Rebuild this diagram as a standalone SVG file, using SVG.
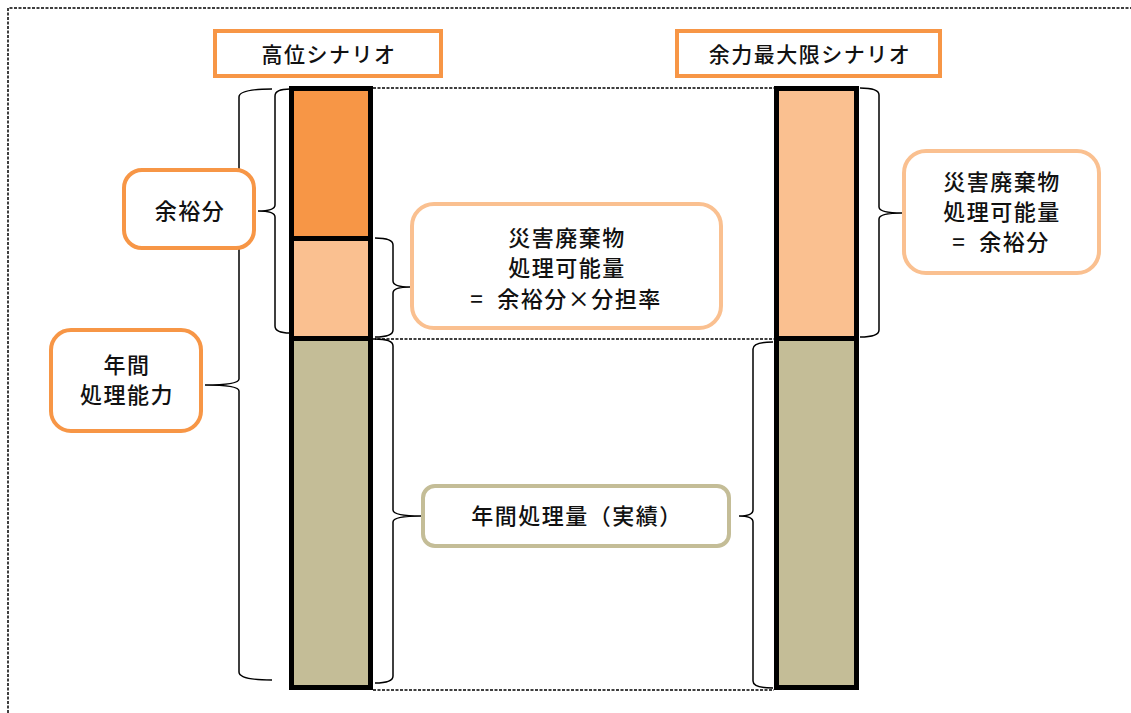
<svg xmlns="http://www.w3.org/2000/svg" width="1131" height="713" viewBox="0 0 1131 713">
<style>
.t{font-family:"Noto Sans CJK JP","Noto Sans",sans-serif;font-size:21px;font-weight:500;fill:#111;text-anchor:middle;letter-spacing:1.5px}
.b{font-family:"Noto Sans CJK JP","Noto Sans",sans-serif;font-size:22px;font-weight:500;fill:#111;text-anchor:middle;letter-spacing:1.5px;white-space:pre}
.box{fill:#fff;stroke-width:4}
.brace{fill:none;stroke:#000;stroke-width:1.5}
.dash{fill:none;stroke:#000;stroke-width:1.5;stroke-dasharray:3 1.5}
.bar{stroke:#000;stroke-width:5}
</style>
<rect width="1131" height="713" fill="#fff"/>
<path class="dash" d="M8,713 L8,8 L1131,8"/>
<g id="connectors">
<path class="dash" d="M373,88 L774,88 M373,339 L774,339 M373,690 L774,690"/>
<path class="brace" d="M272,89 Q239,89 239,97 L239,379 Q239,385 205,385 Q239,385 239,391 L239,672 Q239,680 272,680"/>
<path class="brace" d="M290,89 Q275,89 275,96 L275,205 Q275,211 258,211 Q275,211 275,217 L275,326 Q275,333 290,333"/>
<path class="brace" d="M375,238 Q393,238 393,245 L393,281 Q393,287 410,287 Q393,287 393,293 L393,330 Q393,337 375,337"/>
<path class="brace" d="M375,339 Q393,339 393,346 L393,510 Q393,516 421,516 Q393,516 393,522 L393,676 Q393,683 375,683"/>
<path class="brace" d="M860,88 Q879,88 879,95 L879,207 Q879,213 902,213 Q879,213 879,219 L879,330 Q879,337 860,337"/>
<path class="brace" d="M773,342 Q753,342 753,349 L753,510 Q753,516 739,516 Q753,516 753,522 L753,681 Q753,688 773,688"/>
</g>
<g id="bar-left">
<rect x="291.5" y="88.5" width="79" height="150" fill="#F79646"/>
<rect x="291.5" y="238.5" width="79" height="100" fill="#FAC090"/>
<rect x="291.5" y="338.5" width="79" height="349" fill="#C4BD97"/>
<rect class="bar" x="291.5" y="88.5" width="79" height="599" fill="none"/>
<path class="bar" d="M291.5,238.5 L370.5,238.5 M291.5,338.5 L370.5,338.5"/>
</g>
<g id="bar-right">
<rect x="776.5" y="88.5" width="80" height="250" fill="#FAC090"/>
<rect x="776.5" y="338.5" width="80" height="349" fill="#C4BD97"/>
<rect class="bar" x="776.5" y="88.5" width="80" height="599" fill="none"/>
<path class="bar" d="M776.5,338.5 L856.5,338.5"/>
</g>
<g id="title-left">
<rect class="box" x="215" y="31" width="226" height="45" stroke="#F79646"/>
<text class="t" x="329" y="62">高位シナリオ</text>
</g>
<g id="title-right">
<rect class="box" x="677" y="31" width="263" height="45" stroke="#F79646"/>
<text class="t" x="810" y="62">余力最大限シナリオ</text>
</g>
<g id="yoyu">
<rect class="box" x="124" y="170" width="130" height="78" rx="18" stroke="#F79646"/>
<text class="b" x="190" y="219">余裕分</text>
</g>
<g id="nenkan-noryoku">
<rect class="box" x="51" y="330" width="150" height="101" rx="20" stroke="#F79646"/>
<text class="b" x="127" y="373">年間</text>
<text class="b" x="127" y="403">処理能力</text>
</g>
<g id="mid-box">
<rect class="box" x="412" y="204" width="309" height="124" rx="22" stroke="#FAC090"/>
<text class="b" x="567" y="246">災害廃棄物</text>
<text class="b" x="567" y="276">処理可能量</text>
<text class="b" x="566" y="307" xml:space="preserve">=  余裕分×分担率</text>
</g>
<g id="right-box">
<rect class="box" x="904" y="151" width="195" height="122" rx="22" stroke="#FAC090"/>
<text class="b" x="1002" y="190">災害廃棄物</text>
<text class="b" x="1002" y="220">処理可能量</text>
<text class="b" x="1001" y="250" xml:space="preserve">=  余裕分</text>
</g>
<g id="jisseki">
<rect class="box" x="423" y="486" width="306" height="60" rx="12" stroke="#C4BD97"/>
<text class="b" x="577" y="524">年間処理量（実績）</text>
</g>
</svg>
